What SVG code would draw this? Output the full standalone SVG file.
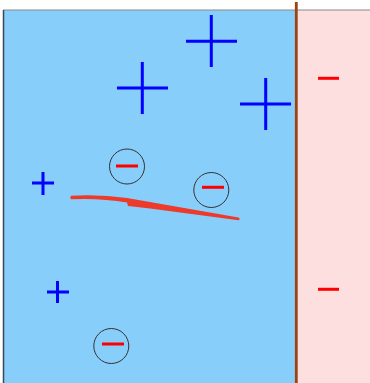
<svg xmlns="http://www.w3.org/2000/svg" width="370" height="383" viewBox="0 0 370 383">
<style>
.plus{stroke:#0000ff;stroke-width:3;fill:none}
.minus{stroke:#ff0000;stroke-width:3;fill:none}
.ion{fill:none;stroke:#333;stroke-width:1}
</style>
<rect x="0" y="0" width="370" height="383" fill="#ffffff"/>
<g id="liquid"><rect x="3.5" y="10" width="293" height="375" fill="#87cefa"/></g>
<g id="solid"><rect x="296" y="10" width="74" height="375" fill="#fddfdf"/></g>
<line x1="3" y1="10" x2="370" y2="10" stroke="#8a8a8a" stroke-width="1.2"/>
<line x1="3.5" y1="10" x2="3.5" y2="383" stroke="#3a4a55" stroke-width="1.5"/>
<g id="interface"><line x1="296.3" y1="2" x2="296.3" y2="383" stroke="#a0420f" stroke-width="2.8"/></g>
<g id="plus1"><path class="plus" d="M186,41.3H237M211.3,15V67"/></g>
<g id="plus2"><path class="plus" d="M117,88H168M142.3,62V114"/></g>
<g id="plus3"><path class="plus" d="M240,104H291M265.7,78V130"/></g>
<g id="plus4"><path class="plus" d="M32,183H54M43,172V195"/></g>
<g id="plus5"><path class="plus" d="M47,292H69M57.5,281V303"/></g>
<g id="minus1"><path class="minus" d="M318,78.3H339"/></g>
<g id="minus2"><path class="minus" d="M318,289.3H339"/></g>
<g id="anion1"><circle class="ion" cx="127" cy="166.5" r="17.5"/><path class="minus" d="M116,166H138"/></g>
<g id="anion2"><circle class="ion" cx="211.3" cy="190" r="17.5"/><path class="minus" d="M202,187.3H224"/></g>
<g id="anion3"><circle class="ion" cx="111.3" cy="346" r="17.5"/><path class="minus" d="M102,344H124"/></g>
<g id="stroke"><path d="M71,195.8 Q100,194.3 127,198 L238.5,217.4 Q240.8,219 238.5,220.2 L150,208.4 L128,206 L127,202.6 Q100,197.8 71,199.3 Q69.5,197.5 71,195.8 Z" fill="#ee3a2a"/></g>
</svg>
